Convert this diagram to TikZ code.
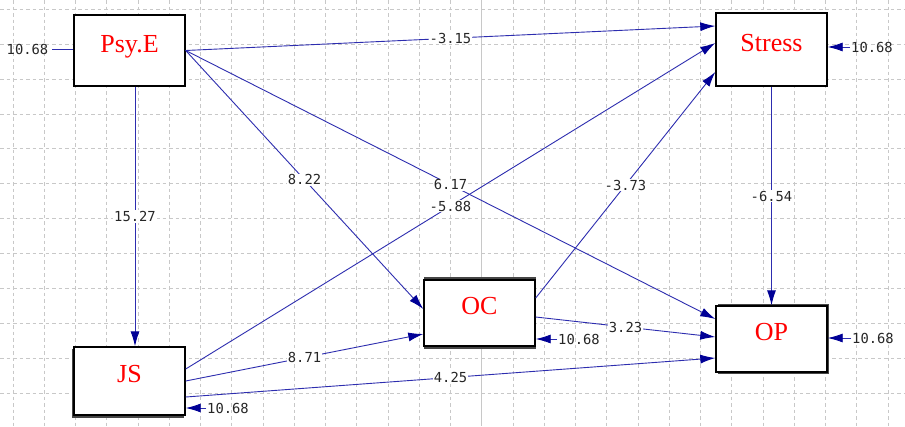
\documentclass[tikz,border=0pt]{standalone}
\usepackage{fontspec}
\setmainfont{Liberation Serif}
\newfontfamily\numfont{DejaVu Sans Mono}
\usetikzlibrary{arrows.meta}
\definecolor{linkblue}{RGB}{45,45,175}
\definecolor{headblue}{RGB}{0,0,150}
\definecolor{gridgray}{RGB}{200,200,200}
\definecolor{shadowgray}{RGB}{70,70,70}
\begin{document}
\begin{tikzpicture}[x=1pt,y=-1pt,
  gridline/.style={gridgray, line width=0.9pt, dash pattern=on 3.5pt off 3pt},
  box/.style={draw=black, line width=1.4pt, fill=white, minimum width=111pt,
    text=red, font=\fontsize{26}{30}\selectfont, text height=16.5pt, text depth=13.5pt, inner sep=0pt},
  num/.style={font=\numfont\fontsize{13.8}{15}\selectfont, text=black!85, inner sep=1pt},
  lbl/.style={num, fill=white, pos=0.5},
  link/.style={draw=linkblue, line width=0.9pt, -{Latex[length=15pt,width=9pt,color=headblue]}},
  errline/.style={draw=linkblue, line width=0.9pt},
  shadowbox/.style={fill=shadowgray}]
\useasboundingbox (0,0) rectangle (905,426);
\fill[white] (0,0) rectangle (905,426);
% grid
\foreach \k in {0,...,28} \draw[gridline] ({13+31.25*\k},0) -- ({13+31.25*\k},426);
\foreach \k in {0,...,11} \draw[gridline] (0,{9.3+34.9*\k}) -- (905,{9.3+34.9*\k});
\draw[gridgray, line width=1pt] (481.75,0) -- (481.75,426);
% shadows
\path[shadowbox] (71.5,348.5) rectangle (183.5,417.5);
\path[shadowbox] (423.5,277) rectangle (535.5,349);
\path[shadowbox] (717.5,303.5) rectangle (829,374);
% boxes
\node[box, minimum height=71pt] (PsyE) at (129.5,50.5) {Psy.E};
\node[box, minimum height=73pt] (Stress) at (771.5,49.5) {Stress};
\node[box, minimum height=68pt] (JS) at (129.5,381) {JS};
\node[box, minimum height=66pt] (OC) at (479.5,313) {OC};
\node[box, minimum height=66pt] (OP) at (771.5,339) {OP};
% paths
\draw[link] (PsyE.east) -- node[lbl]{-3.15} ([yshift=23.5pt]Stress.west);
\draw[link] (PsyE.east) -- node[lbl]{8.22} ([yshift=4pt]OC.west);
\draw[link] ([xshift=5.5pt]PsyE.south) -- node[lbl]{15.27} ([xshift=5.5pt]JS.north);
\draw[link] ([yshift=12pt]JS.east) -- node[lbl]{-5.88} ([yshift=6.5pt]Stress.west);
\draw[link] (PsyE.east) -- node[lbl]{6.17} ([yshift=20pt]OP.west);
\draw[link] (JS.east) -- node[lbl]{8.71} ([yshift=-21pt]OC.west);
\draw[link] ([yshift=-16pt]JS.east) -- node[lbl]{4.25} ([yshift=-19pt]OP.west);
\draw[link] ([yshift=15pt]OC.east) -- node[lbl]{-3.73} ([yshift=-22.5pt]Stress.west);
\draw[link] ([yshift=-4pt]OC.east) -- node[lbl]{3.23} ([yshift=2pt]OP.west);
\draw[link] (Stress.south) -- node[lbl]{-6.54} (OP.north);
% error terms
\node[num] (ePsyE) at (27.5,49) {10.68};
\draw[errline] ([xshift=3pt]ePsyE.east) -- ([yshift=1.5pt]PsyE.west);
\node[num] (eStress) at (872,47) {10.68};
\draw[link] (eStress.west) -- ([yshift=2.5pt]Stress.east);
\node[num] (eJS) at (228,408) {10.68};
\draw[link] (eJS.west) -- ([yshift=-27pt]JS.east);
\node[num] (eOC) at (579,339) {10.68};
\draw[link] (eOC.west) -- ([yshift=-26pt]OC.east);
\node[num] (eOP) at (873,338) {10.68};
\draw[link] (eOP.west) -- ([yshift=1pt]OP.east);
\end{tikzpicture}
\end{document}
